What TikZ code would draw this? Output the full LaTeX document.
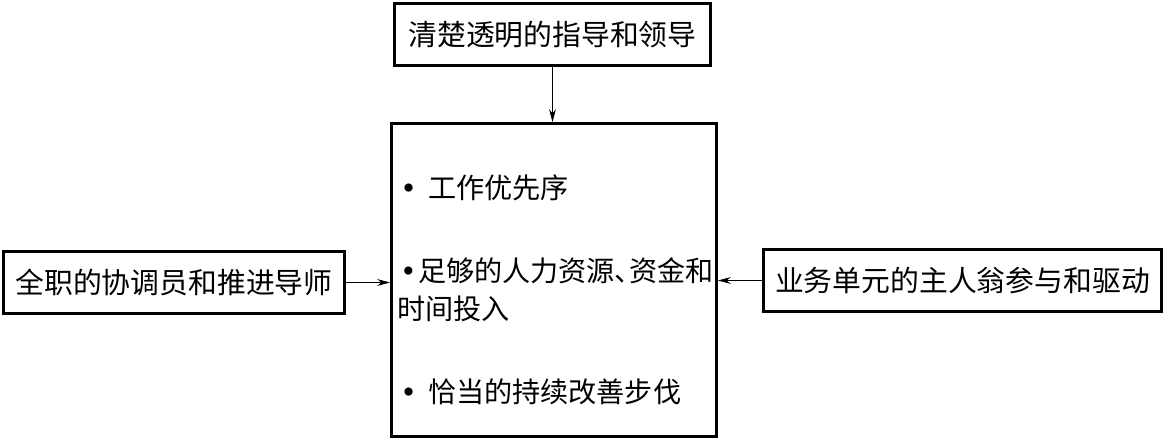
\documentclass[tikz,border=0pt]{standalone}
\usepackage{fontspec}
\setmainfont{Noto Sans CJK SC}
\newfontfamily\dotfont{DejaVu Sans}
\usetikzlibrary{arrows.meta}

\newcommand{\itemdot}{{\dotfont •}}

\tikzset{
    box/.style={draw, line width=2pt, inner sep=0pt, minimum height=1.55cm, font=\fontsize{20.5}{27}\selectfont},
    item/.style={anchor=west, inner sep=0pt, align=left, font=\fontsize{20}{27}\selectfont},
    arr/.style={-{Stealth[length=0.32cm,width=0.17cm]}, line width=0.6pt}
}

\begin{document}
\begin{tikzpicture}[x=0.025cm,y=-0.025cm]
        \useasboundingbox (0,0) rectangle (1166,440);
        % Draw boxes
        \node[box, minimum width=7.9cm] (lead) at (552.5,34.5) {清楚透明的指导和领导};
        \node[box, minimum width=8.125cm, minimum height=7.825cm] (res) at (554,280) {};
        \node[box, minimum width=8.525cm] (coach) at (174,282.5) {全职的协调员和推进导师};
        \node[box, minimum width=9.95cm] (owner) at (962.5,280.5) {业务单元的主人翁参与和驱动};
        % Add items
        \node[item] (first) at (400,188) {\itemdot\hspace{0.4em}工作优先序};
        \node[item] (second) at (397,290) {\kern2pt\itemdot\kern1pt 足够的人力资源、\kern-0.5em 资金和\\时间投入};
        \node[item] (third) at (400,392) {\itemdot\hspace{0.4em}恰当的持续改善步伐};
        % Draw arrows
        \draw[arr] (lead.south) -- (lead.south |- res.north);
        \draw[arr] (coach.east) -- (coach.east -| res.west);
        \draw[arr] (owner.west) -- (owner.west -| res.east);
\end{tikzpicture}
\end{document}
